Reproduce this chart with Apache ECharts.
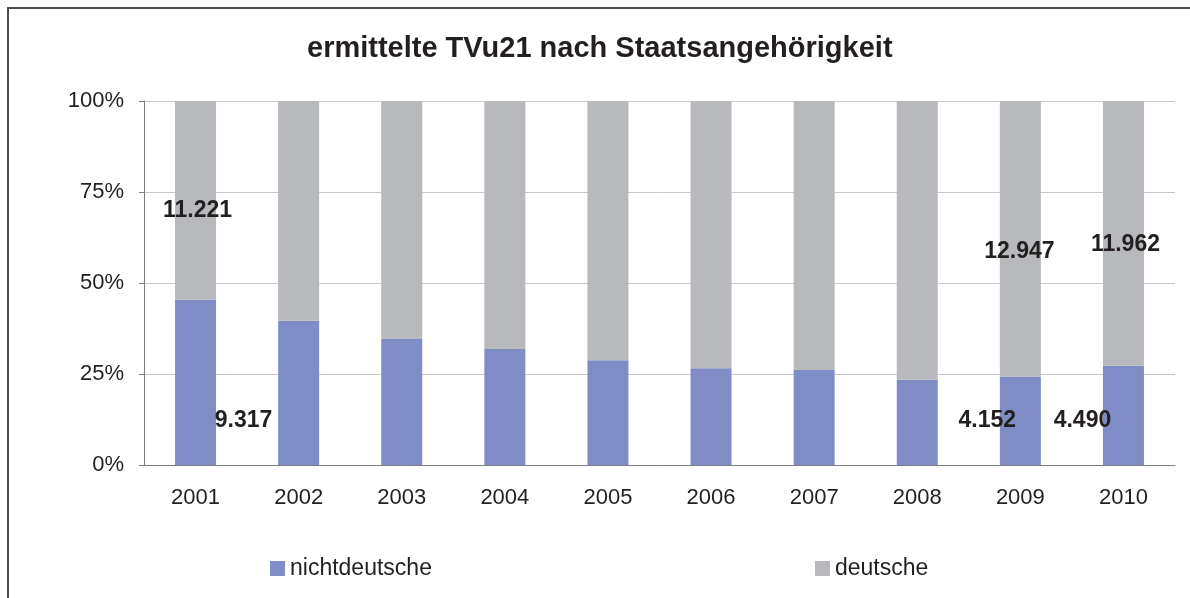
<!DOCTYPE html>
<html>
<head>
<meta charset="utf-8">
<script src="https://cdn.jsdelivr.net/npm/echarts@6/dist/echarts.min.js"></script>
<style>
  html, body { margin: 0; padding: 0; background: #fff; }
  #chart { width: 1190px; height: 598px; }
</style>
</head>
<body>
<div id="chart"></div>
<script>
// Jahre
var years = ['2001', '2002', '2003', '2004', '2005', '2006', '2007', '2008', '2009', '2010'];
// Anteile in Prozent
var nichtdeutschePct = [45.4, 39.6, 34.6, 31.9, 28.8, 26.6, 26.1, 23.4, 24.3, 27.3];
var deutschePct = [54.6, 60.4, 65.4, 68.1, 71.2, 73.4, 73.9, 76.6, 75.7, 72.7];
// absolute Zahlen, nur wo beschriftet
var nichtdeutscheAnzahl = ['9.317', null, null, null, null, null, null, null, '4.152', '4.490'];
var deutscheAnzahl = ['11.221', null, null, null, null, null, null, null, '12.947', '11.962'];

var yTicks = [0, 25, 50, 75, 100];

var chart = echarts.init(document.getElementById('chart'));

// Beschriftungen sitzen im Original etwas neben den Balken
var nichtOffsets = [[48, 38], null, null, null, null, null, null, null, [-33, 0], [-41, 5]];
var deutschOffsets = [[2, 10], null, null, null, null, null, null, null, [-1, 13], [2, 11]];

function makeData(values, labels, offsets) {
  return values.map(function (v, i) {
    var item = { value: v };
    if (labels[i]) {
      item.label = {
        show: true,
        position: 'inside',
        offset: offsets[i],
        formatter: labels[i],
        fontFamily: 'Liberation Sans, Arial, sans-serif',
        fontWeight: 'bold',
        fontSize: 23,
        color: '#231f20'
      };
    }
    return item;
  });
}

var option = {
  backgroundColor: '#ffffff',
  animation: false,
  title: {
    text: 'ermittelte TVu21 nach Staatsangehörigkeit',
    left: 302,
    top: 29,
    textStyle: {
      fontFamily: 'Liberation Sans, Arial, sans-serif',
      fontWeight: 'bold',
      fontSize: 29,
      color: '#231f20'
    }
  },
  graphic: [
    {
      type: 'polyline',
      shape: { points: [[8, 598], [8, 8], [1190, 8]] },
      style: { stroke: '#4d4d4d', lineWidth: 2, fill: null }
    }
  ],
  legend: [
    {
      data: ['nichtdeutsche'],
      left: 265,
      top: 552,
      itemWidth: 15,
      itemHeight: 15,
      itemGap: 6,
      icon: 'rect',
      textStyle: { fontFamily: 'Liberation Sans, Arial, sans-serif', fontSize: 23, color: '#231f20' }
    },
    {
      data: ['deutsche'],
      left: 810,
      top: 552,
      itemWidth: 15,
      itemHeight: 15,
      itemGap: 6,
      icon: 'rect',
      textStyle: { fontFamily: 'Liberation Sans, Arial, sans-serif', fontSize: 23, color: '#231f20' }
    }
  ],
  grid: {
    left: 144,
    right: 15,
    top: 101,
    bottom: 133
  },
  xAxis: {
    type: 'category',
    data: years,
    axisLine: { lineStyle: { color: '#7f7f7f', width: 1 } },
    axisTick: { length: 7, lineStyle: { color: '#7f7f7f' } },
    axisLabel: {
      margin: 22,
      fontFamily: 'Liberation Sans, Arial, sans-serif',
      fontSize: 22,
      color: '#231f20'
    }
  },
  yAxis: {
    type: 'value',
    min: yTicks[0],
    max: yTicks[yTicks.length - 1],
    interval: 25,
    axisLine: { show: true, lineStyle: { color: '#7f7f7f', width: 1 } },
    axisTick: { show: true, length: 5, lineStyle: { color: '#7f7f7f' } },
    splitLine: { lineStyle: { color: '#c8c8c8', width: 1 } },
    axisLabel: {
      margin: 20,
      formatter: '{value}%',
      fontFamily: 'Liberation Sans, Arial, sans-serif',
      fontSize: 22,
      color: '#231f20'
    }
  },
  series: [
    {
      name: 'nichtdeutsche',
      type: 'bar',
      stack: 'total',
      barWidth: 41,
      itemStyle: { color: '#808cc5' },
      data: makeData(nichtdeutschePct, nichtdeutscheAnzahl, nichtOffsets)
    },
    {
      name: 'deutsche',
      type: 'bar',
      stack: 'total',
      barWidth: 41,
      itemStyle: { color: '#b8b9bd' },
      data: makeData(deutschePct, deutscheAnzahl, deutschOffsets)
    }
  ]
};

chart.setOption(option);
</script>
</body>
</html>
